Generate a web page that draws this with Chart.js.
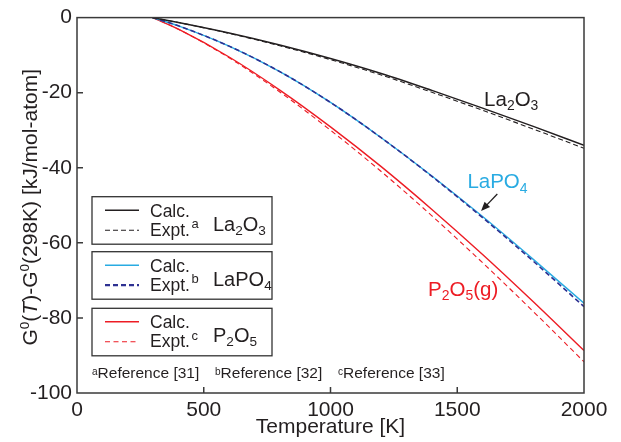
<!DOCTYPE html>
<html lang="en">
<head>
<meta charset="UTF-8">
<title>G(T)-G(298K) vs Temperature</title>
<script src="https://cdn.jsdelivr.net/npm/chart.js"></script>
<style>
  body { margin: 0; background: #fff; }
  #wrap { width: 621px; height: 442px; }
</style>
</head>
<body>
<div id="wrap"><canvas id="gChart"></canvas></div>
<script>
// values (kJ/mol-atom)
const temps     = [298, 400, 600, 800, 1000, 1200, 1400, 1600, 1800, 2000];
const la2o3Calc = [0, -1.3, -4.1, -7.3, -10.9, -14.9, -19.4, -24.1, -29.0, -34.0];
const la2o3Expt = [0, -1.3, -4.2, -7.5, -11.2, -15.3, -19.9, -24.7, -29.7, -34.8];
const lapo4Calc = [0, -2.2, -7.6, -14.4, -22.6, -32.0, -42.2, -53.0, -64.4, -76.1];
const lapo4Expt = [0, -2.2, -7.6, -14.4, -22.6, -32.0, -42.3, -53.3, -64.9, -77.0];
const p2o5Calc  = [0, -3.1, -10.5, -19.3, -29.1, -39.7, -51.1, -63.1, -75.7, -88.7];
const p2o5Expt  = [0, -3.1, -10.7, -19.8, -30.0, -41.0, -52.8, -65.3, -78.3, -91.7];
const xTicks = [0, 500, 1000, 1500, 2000];
const yTicks = [0, -20, -40, -60, -80, -100];

const FONT = '"Liberation Sans", Arial, Helvetica, sans-serif';
const INK = '#231f20';
const BLACK = '#231f20', CYAN = '#29abe2', NAVY = '#2e3192', RED = '#ed1c24';

function mk(label, vals, color, dash, width) {
  return {
    label: label,
    data: temps.map((t, i) => ({ x: t, y: vals[i] })),
    borderColor: color,
    borderWidth: width,
    borderDash: dash,
    pointRadius: 0,
    fill: false,
    cubicInterpolationMode: 'monotone'
  };
}

// parts: {t, s: size factor, dy: baseline shift factor, it: italic}
function richWidth(ctx, parts, size) {
  let w = 0;
  parts.forEach(p => {
    ctx.font = (p.it ? 'italic ' : '') + (size * (p.s || 1)) + 'px ' + FONT;
    w += ctx.measureText(p.t).width;
  });
  return w;
}
function rich(ctx, x, y, parts, size, color) {
  ctx.fillStyle = color;
  ctx.textAlign = 'left';
  ctx.textBaseline = 'alphabetic';
  let cx = x;
  parts.forEach(p => {
    ctx.font = (p.it ? 'italic ' : '') + (size * (p.s || 1)) + 'px ' + FONT;
    ctx.fillText(p.t, cx, y + size * (p.dy || 0));
    cx += ctx.measureText(p.t).width;
  });
  return cx - x;
}
const T = t => ({ t: t });
const SUB = t => ({ t: t, s: 0.68, dy: 0.2 });
const SUP = t => ({ t: t, s: 0.65, dy: -0.38 });

const la2o3Txt = [T('La'), SUB('2'), T('O'), SUB('3')];
const lapo4Txt = [T('LaPO'), SUB('4')];
const p2o5Txt  = [T('P'), SUB('2'), T('O'), SUB('5')];

function seg(ctx, x1, x2, y, color, width, dash) {
  ctx.beginPath();
  ctx.strokeStyle = color;
  ctx.lineWidth = width;
  ctx.setLineDash(dash);
  ctx.moveTo(x1, y);
  ctx.lineTo(x2, y);
  ctx.stroke();
  ctx.setLineDash([]);
}

function legendBox(ctx, top, calcColor, exptColor, exptWidth, exptDash, mark, formula) {
  const L = 92, R = 272, H = 47.5;
  ctx.strokeStyle = '#333';
  ctx.lineWidth = 1.3;
  ctx.setLineDash([]);
  ctx.strokeRect(L, top, R - L, H);
  seg(ctx, 105, 139, top + 13.5, calcColor, 1.4, []);
  seg(ctx, 105, 139, top + 33.5, exptColor, exptWidth, exptDash);
  rich(ctx, 150, top + 20, [T('Calc.')], 17.5, INK);
  const w = rich(ctx, 150, top + 39, [T('Expt.')], 17.5, INK);
  rich(ctx, 150 + w + 1.5, top + 31.5, [T(mark)], 13, INK);
  rich(ctx, 213, top + 34, formula, 20, INK);
}

const decor = {
  id: 'decor',
  afterDatasetsDraw(chart) {
    const { ctx, chartArea: a, scales: { x, y } } = chart;
    ctx.save();

    // frame + inward ticks
    ctx.strokeStyle = '#3a3a3a';
    ctx.lineWidth = 1.5;
    ctx.strokeRect(a.left, a.top, a.right - a.left, a.bottom - a.top);
    ctx.beginPath();
    xTicks.slice(1, -1).forEach(v => {
      const px = x.getPixelForValue(v);
      ctx.moveTo(px, a.bottom);
      ctx.lineTo(px, a.bottom - 6);
    });
    yTicks.slice(1, -1).forEach(v => {
      const py = y.getPixelForValue(v);
      ctx.moveTo(a.left, py);
      ctx.lineTo(a.left + 6, py);
    });
    ctx.stroke();

    // y title
    const yTitle = [T('G'), SUP('0'), T('('), { t: 'T', it: true }, T(')-G'), SUP('0'), T('(298K) [kJ/mol-atom]')];
    const tw = richWidth(ctx, yTitle, 21);
    ctx.save();
    ctx.translate(36.5, (a.top + a.bottom) / 2 + 2);
    ctx.rotate(-Math.PI / 2);
    rich(ctx, -tw / 2, 0, yTitle, 21, INK);
    ctx.restore();

    // curve labels, anchored in data space
    rich(ctx, x.getPixelForValue(1606), y.getPixelForValue(-23.5), la2o3Txt, 20.5, BLACK);
    rich(ctx, x.getPixelForValue(1540), y.getPixelForValue(-45.5), lapo4Txt, 20.5, CYAN);
    rich(ctx, x.getPixelForValue(1385), y.getPixelForValue(-74.05), p2o5Txt.concat([T('(g)')]), 20.5, RED);

    // arrow to LaPO4 curve
    const x1 = x.getPixelForValue(1658), y1 = y.getPixelForValue(-47.0);
    const x2 = x.getPixelForValue(1594), y2 = y.getPixelForValue(-51.5);
    const ang = Math.atan2(y2 - y1, x2 - x1);
    ctx.strokeStyle = INK;
    ctx.fillStyle = INK;
    ctx.lineWidth = 1.3;
    ctx.beginPath();
    ctx.moveTo(x1, y1);
    ctx.lineTo(x2 - 6 * Math.cos(ang), y2 - 6 * Math.sin(ang));
    ctx.stroke();
    ctx.beginPath();
    ctx.moveTo(x2, y2);
    ctx.lineTo(x2 - 9 * Math.cos(ang) + 3.8 * Math.sin(ang), y2 - 9 * Math.sin(ang) - 3.8 * Math.cos(ang));
    ctx.lineTo(x2 - 9 * Math.cos(ang) - 3.8 * Math.sin(ang), y2 - 9 * Math.sin(ang) + 3.8 * Math.cos(ang));
    ctx.closePath();
    ctx.fill();

    // legend boxes
    legendBox(ctx, 196.7, BLACK, BLACK, 1.1, [5, 3], 'a', la2o3Txt);
    legendBox(ctx, 251.7, CYAN, NAVY, 2.2, [5, 3], 'b', lapo4Txt);
    legendBox(ctx, 308.3, RED, RED, 1.1, [5, 3.5], 'c', p2o5Txt);

    // footnotes
    const fn = (px, m, txt) => rich(ctx, px, 378.3, [{ t: m, s: 0.65, dy: -0.22 }, T(txt)], 15.5, INK);
    fn(92, 'a', 'Reference [31]');
    fn(215, 'b', 'Reference [32]');
    fn(338, 'c', 'Reference [33]');

    ctx.restore();
  }
};

new Chart(document.getElementById('gChart'), {
  type: 'line',
  data: {
    datasets: [
      mk('La2O3 Calc.', la2o3Calc, BLACK, [], 1.4),
      mk('La2O3 Expt.', la2o3Expt, BLACK, [5, 3], 1.1),
      mk('LaPO4 Expt.', lapo4Expt, NAVY, [5, 3], 1.6),
      mk('LaPO4 Calc.', lapo4Calc, CYAN, [], 1.4),
      mk('P2O5 Calc.', p2o5Calc, RED, [], 1.4),
      mk('P2O5 Expt.', p2o5Expt, RED, [5, 3.5], 1.1)
    ]
  },
  options: {
    responsive: true,
    maintainAspectRatio: false,
    animation: false,
    layout: { padding: { top: 15, right: 37, left: 0, bottom: 0 } },
    plugins: { legend: { display: false }, tooltip: { enabled: false } },
    scales: {
      x: {
        type: 'linear',
        min: 0, max: 2000,
        grid: { display: false, drawTicks: false },
        border: { display: false },
        ticks: { stepSize: 500, maxRotation: 0, padding: 5, color: INK, font: { family: FONT, size: 21 },
                 callback: v => String(v) },
        title: { display: true, text: 'Temperature [K]', color: INK, font: { family: FONT, size: 21 }, padding: { top: 0, bottom: 2 } },
        afterFit: s => { s.height = 49; }
      },
      y: {
        min: -100, max: 0,
        grid: { display: false, drawTicks: false },
        border: { display: false },
        ticks: { stepSize: 20, padding: 5, color: INK, font: { family: FONT, size: 21 }, callback: v => String(v) },
        afterFit: s => { s.width = 77; }
      }
    }
  },
  plugins: [decor]
});
</script>
</body>
</html>
